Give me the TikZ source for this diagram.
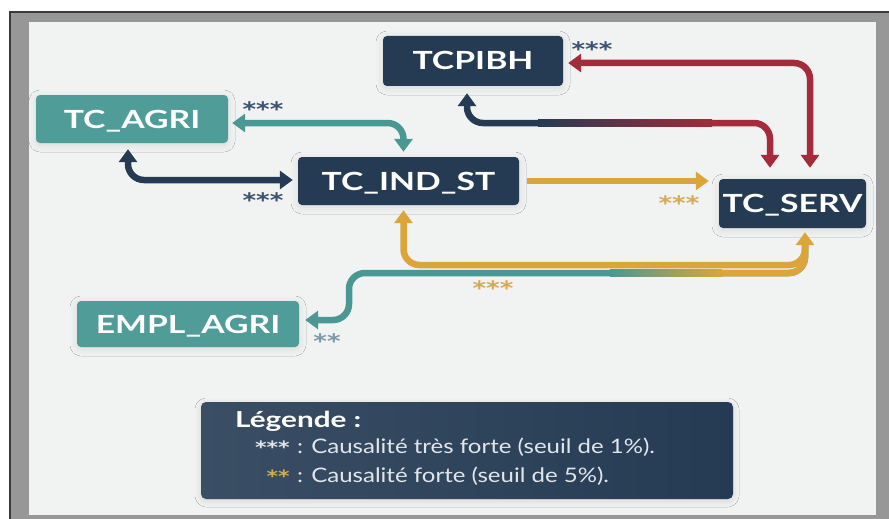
\documentclass[tikz,border=0pt]{standalone}
\usepackage{fontspec}
\usetikzlibrary{arrows.meta,shadows.blur,calc}
\newfontfamily\nodefont{Lato}[FakeStretch=1.35]
\newfontfamily\legfont{Lato}[FakeStretch=1.2]
\newfontfamily\starfont{DejaVu Sans}[FakeStretch=1.3]
\definecolor{navy}{HTML}{243B53}
\definecolor{tealc}{HTML}{4F9C98}
\definecolor{tealarrc}{HTML}{4A9893}
\definecolor{goldc}{HTML}{DBA53B}
\definecolor{redc}{HTML}{A52A3A}
\definecolor{starnavy}{HTML}{3B5370}
\definecolor{stargold}{HTML}{D4AA55}
\definecolor{starteal}{HTML}{7A9AA8}
\definecolor{bgc}{HTML}{F1F2F2}
\definecolor{framegray}{HTML}{979797}
\definecolor{framedark}{HTML}{3A3A3A}
\definecolor{legtextc}{HTML}{E2E6EA}
\begin{document}
\begin{tikzpicture}[x=1pt,y=-1pt,
  box/.style={rounded corners=4pt, text=white, inner sep=0pt, text height=18pt, text depth=0pt,
    font=\nodefont\bfseries\fontsize{25}{30}\selectfont,
    blur shadow={shadow xshift=0pt,shadow yshift=-2pt,shadow blur radius=7pt,shadow opacity=10}},
  navybox/.style={box, fill=navy},
  tealbox/.style={box, fill=tealc},
  conn/.style={line width=6.5pt, rounded corners=16pt, >={Triangle[width=18pt,length=13pt]}},
  tealarr/.style={conn, draw=tealarrc},
  navyarr/.style={conn, draw=navy},
  redarr/.style={conn, draw=redc},
  goldarr/.style={conn, draw=goldc},
  stars/.style={inner sep=0pt, font=\starfont\bfseries\fontsize{20}{20}\selectfont},
  starn/.style={stars, text=starnavy},
  starg/.style={stars, text=stargold},
  start/.style={stars, text=starteal},
  legtxt/.style={inner sep=0pt, text=legtextc, font=\legfont\fontsize{20}{24}\selectfont},
  legstar/.style={inner sep=0pt, font=\starfont\bfseries\fontsize{17}{17}\selectfont},
]
\useasboundingbox (0,0) rectangle (889,519);
% frame and background
\fill[white] (0,0) rectangle (889,519);
\fill[framegray] (10,12) rectangle (889,519);
\draw[framedark, line width=1.5pt] (10,519) -- (10,12) -- (889,12);
\fill[bgc] (29,22) rectangle (876,515);

% nodes
\node[navybox, minimum width=180pt, minimum height=50pt] (pib) at (473,61) {TCPIBH};
\node[tealbox, minimum width=192pt, minimum height=48pt] (agri) at (132,119) {TC\_AGRI};
\node[navybox, minimum width=221pt, minimum height=48pt] (ind) at (408.5,181) {TC\_IND\_ST};
\node[navybox, minimum width=147pt, minimum height=49pt] (serv) at (792.5,203.5) {TC\_SERV};
\node[tealbox, minimum width=222pt, minimum height=46pt] (empl) at (188,324) {EMPL\_AGRI};

% helper coordinates
\coordinate (yA) at (0,123);
\coordinate (yB) at (0,180);
\coordinate (m1) at (540,123);
\coordinate (m2) at (710,123);
\coordinate (yG) at (0,265);
\coordinate (yT) at (0,273);
\coordinate (xT) at (349,0);
\coordinate (t1) at (720,273);

% TC_AGRI <-> TC_IND_ST (teal)
\draw[tealarr, <->, shorten <=4pt, shorten >=5pt] (agri.east |- yA) -| ([xshift=-5pt]ind.north);
% TC_AGRI <-> TC_IND_ST (navy)
\draw[navyarr, <->, shorten <=6pt, shorten >=5pt] ([xshift=-4pt]agri.south) |- (ind.west |- yB);
% TCPIBH <-> TC_SERV (navy to red)
\draw[navyarr, <-, shorten <=7pt] ([xshift=-6pt]pib.south) |- (m1);
\shade[left color=navy, right color=redc] (538,119.75) rectangle (712,126.25);
\draw[redarr, ->, shorten >=11pt] (m2) -| ([xshift=-22.5pt]serv.north);
% TC_SERV <-> TCPIBH (red)
\draw[redarr, <->, shorten <=11pt, shorten >=5pt] ([xshift=17.5pt]serv.north) |- ([yshift=-2pt]pib.east);
% TC_IND_ST -> TC_SERV (gold)
\draw[goldarr, ->, shorten <=8pt, shorten >=10pt] (ind.east) -- (ind.east -| serv.west);
% TC_SERV -> EMPL_AGRI (teal, gold at its start)
\draw[tealarr, ->, shorten <=14pt, shorten >=6pt] ([xshift=12.5pt]serv.south) |- (xT |- yT) |- ([yshift=4pt]empl.east);
\draw[goldarr, shorten <=14pt] ([xshift=12.5pt]serv.south) |- (t1);
\shade[left color=tealarrc, right color=goldc] (610,269.75) rectangle (722,276.25);
% TC_SERV <-> TC_IND_ST (gold)
\draw[goldarr, <->, shorten <=4pt, shorten >=5pt] ([xshift=12.5pt]serv.south) |- ([xshift=-5pt]ind.south |- yG) -- ([xshift=-5pt]ind.south);

% significance stars
\node[starn] (s1) at (263,109.5) {***};
\node[starn] (s2) at (263,200.5) {***};
\node[starn] (s3) at (592,49.5) {***};
\node[starg] (s4) at (679,203.5) {***};
\node[starg] (s5) at (493,288.5) {***};
\node[start] (s6) at (327,341.5) {**};

% legend
\node[rounded corners=5pt, left color=navy!90!white, right color=navy, minimum width=532pt, minimum height=97pt, inner sep=0pt,
  blur shadow={shadow xshift=0pt,shadow yshift=-2pt,shadow blur radius=6pt,shadow opacity=12}] (leg) at (467,450.5) {};
\node[anchor=base west, inner sep=0pt, text=white, font=\nodefont\bfseries\fontsize{22}{26}\selectfont] (legt) at (235,427) {Légende :};
\node[anchor=base east, legstar, text=legtextc] (l1s) at (290,453) {***};
\node[anchor=base west, legtxt] (l1t) at (297,453) {: Causalité très forte (seuil de 1\%).};
\node[anchor=base east, legstar, text=stargold] (l2s) at (290,482) {**};
\node[anchor=base west, legtxt] (l2t) at (297,482) {: Causalité forte (seuil de 5\%).};
\end{tikzpicture}
\end{document}
